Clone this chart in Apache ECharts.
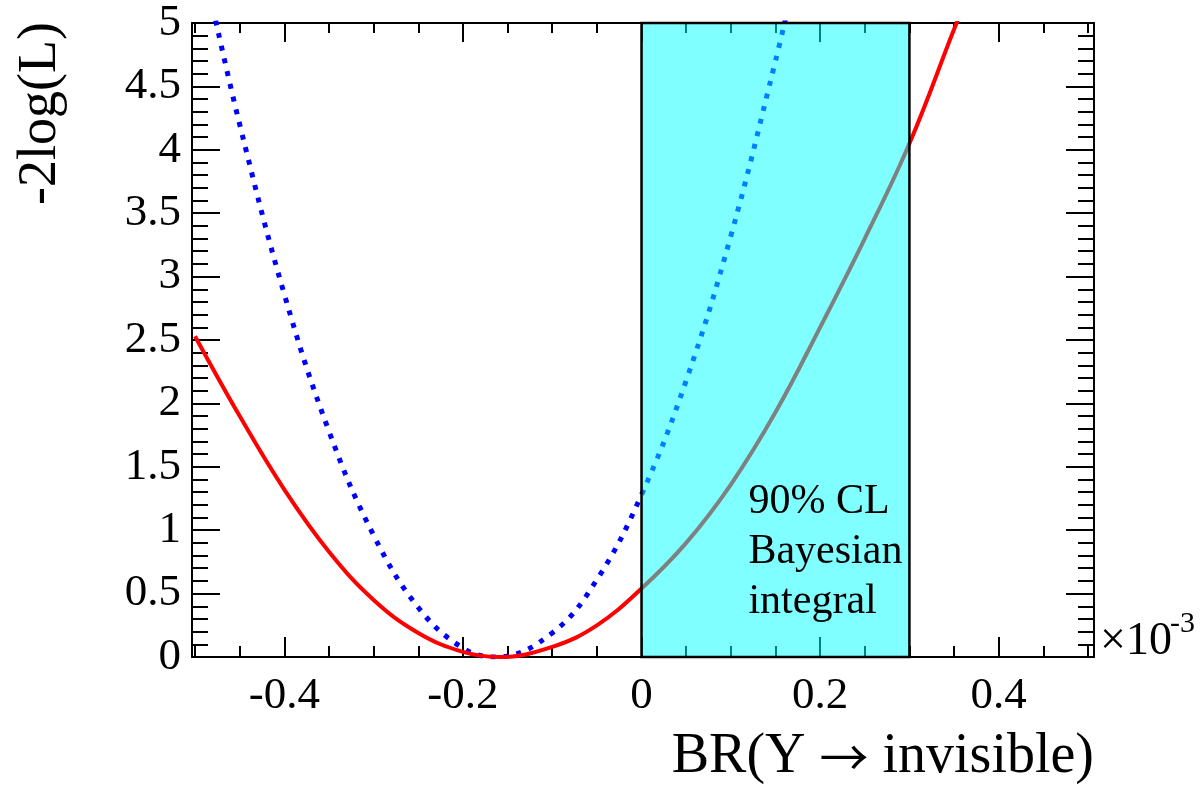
<!DOCTYPE html>
<html><head><meta charset="utf-8">
<script src="https://cdn.jsdelivr.net/npm/echarts@6/dist/echarts.min.js"></script>
<style>html,body{margin:0;padding:0;background:#fff}#c{width:1202px;height:788px}</style>
</head><body><div id="c"></div>
<script>
// ---- data (BR in units of 1e-3) ----
const redX = [-0.5, -0.45, -0.4, -0.35, -0.3, -0.25, -0.2, -0.16, -0.1, -0.05, 0, 0.05, 0.1, 0.15, 0.2, 0.25, 0.3, 0.35, 0.36];
const redY = [2.53, 1.90, 1.32, 0.83, 0.45, 0.19, 0.04, 0.0, 0.08, 0.25, 0.54, 0.90, 1.36, 1.93, 2.60, 3.30, 4.05, 4.95, 5.12];
const blueX = [-0.48, -0.45, -0.4, -0.35, -0.3, -0.25, -0.2, -0.163, -0.1, -0.05, 0, 0.05, 0.1, 0.15, 0.165];
const blueY = [5.12, 4.20, 2.86, 1.78, 0.96, 0.39, 0.07, 0.0, 0.19, 0.61, 1.28, 2.18, 3.32, 4.70, 5.15];
const xMajorTicks = [-0.4, -0.2, 0, 0.2, 0.4];
const xMinorTicks = [-0.5, -0.45, -0.4, -0.35, -0.3, -0.25, -0.2, -0.15, -0.1, -0.05, 0, 0.05, 0.1, 0.15, 0.2, 0.25, 0.3, 0.35, 0.4, 0.45, 0.5];
const yMajorTicks = [0, 0.5, 1, 1.5, 2, 2.5, 3, 3.5, 4, 4.5, 5];
const yMinorTicks = [0.1, 0.2, 0.3, 0.4, 0.6, 0.7, 0.8, 0.9, 1.1, 1.2, 1.3, 1.4, 1.6, 1.7, 1.8, 1.9, 2.1, 2.2, 2.3, 2.4, 2.6, 2.7, 2.8, 2.9, 3.1, 3.2, 3.3, 3.4, 3.6, 3.7, 3.8, 3.9, 4.1, 4.2, 4.3, 4.4, 4.6, 4.7, 4.8, 4.9];
const bandX = [0, 0.3];
const bandLabel = '90% CL\nBayesian\nintegral';
const xTitleParts = ['BR(Y ', '\u2192', ' invisible)'];
const yTitle = '-2log(L)';

const X_MIN = -0.5034, X_MAX = 0.5067, Y_MIN = 0, Y_MAX = 5;
const FONT = '"Liberation Serif", "Times New Roman", serif';

function xAx(pos, ticks, len, labels, line) {
  return {
    type: 'value', position: pos, min: X_MIN, max: X_MAX,
    axisLine: { show: line, onZero: false, lineStyle: { color: '#000', width: 2 } },
    axisTick: { show: true, inside: true, length: len, customValues: ticks, lineStyle: { color: '#000', width: 2 } },
    axisLabel: labels ? { show: true, customValues: ticks, fontSize: 45, fontFamily: FONT, color: '#000', margin: 17 } : { show: false },
    splitLine: { show: false }
  };
}
function yAx(pos, ticks, len, labels, line) {
  return {
    type: 'value', position: pos, min: Y_MIN, max: Y_MAX,
    axisLine: { show: line, onZero: false, lineStyle: { color: '#000', width: 2 } },
    axisTick: { show: true, inside: true, length: len, customValues: ticks, lineStyle: { color: '#000', width: 2 } },
    axisLabel: labels ? { show: true, customValues: ticks, fontSize: 45, fontFamily: FONT, color: '#000', margin: 11, verticalAlign: 'middle', padding: [8, 0, 0, 0] } : { show: false },
    splitLine: { show: false }
  };
}

const chart = echarts.init(document.getElementById('c'), null, { renderer: 'canvas' });
chart.setOption({
  animation: false,
  backgroundColor: '#fff',
  grid: { left: 192, right: 108, top: 23, bottom: 131, outerBoundsMode: 'none', containLabel: false },
  xAxis: [
    xAx('bottom', xMajorTicks, 20, true, true),
    xAx('bottom', xMinorTicks, 11, false, false),
    xAx('top', xMajorTicks, 19, false, true),
    xAx('top', xMinorTicks, 10, false, false)
  ],
  yAxis: [
    yAx('left', yMajorTicks, 28, true, true),
    yAx('left', yMinorTicks, 16, false, false),
    yAx('right', yMajorTicks, 28, false, true),
    yAx('right', yMinorTicks, 16, false, false)
  ],
  series: [
    {
      type: 'line', name: 'red', z: 4, xAxisIndex: 0, yAxisIndex: 0,
      data: redX.map((x, i) => [x, redY[i]]), smooth: 0.4, showSymbol: false, symbol: 'none',
      lineStyle: { color: '#ff0000', width: 4 }
    },
    {
      type: 'line', name: 'blue', z: 3, xAxisIndex: 0, yAxisIndex: 0,
      data: blueX.map((x, i) => [x, blueY[i]]), smooth: 0.4, showSymbol: false, symbol: 'none',
      lineStyle: { color: '#0000ff', width: 5, type: [5, 8], cap: 'butt' }
    },
    {
      type: 'line', name: 'band', z: 20, xAxisIndex: 0, yAxisIndex: 0, data: [],
      markArea: {
        silent: true, z: 20,
        itemStyle: { color: 'rgba(0,255,255,0.5)', borderColor: '#000', borderWidth: 2.5 },
        label: { show: true, position: ['40%', '71.5%'], align: 'left', verticalAlign: 'top', formatter: bandLabel, fontSize: 42, lineHeight: 50, fontFamily: FONT, color: '#000' },
        data: [[{ xAxis: bandX[0], yAxis: Y_MIN }, { xAxis: bandX[1], yAxis: Y_MAX }]]
      }
    }
  ],
  graphic: [
    { type: 'text', x: 1094, y: 757, z: 30, style: {
      text: '{t|' + xTitleParts[0] + '}{a|' + xTitleParts[1] + '}{t|' + xTitleParts[2] + '}',
      align: 'right', verticalAlign: 'middle',
      rich: { t: { fontSize: 56, fontFamily: FONT, fill: '#000' }, a: { fontSize: 49, fontFamily: '"Noto Sans CJK JP", sans-serif', fill: '#000' } }
    } },
    { type: 'text', x: 41, y: 22, rotation: Math.PI / 2, style: { text: yTitle, font: '54px ' + FONT, fill: '#000', align: 'right', verticalAlign: 'middle' } },
    { type: 'text', x: 1100, y: 642, style: { text: '\u00d710', font: '46px ' + FONT, fill: '#000', align: 'left', verticalAlign: 'middle' } },
    { type: 'text', x: 1170, y: 624, style: { text: '-3', font: '30px ' + FONT, fill: '#000', align: 'left', verticalAlign: 'middle' } }
  ]
});
</script></body></html>
